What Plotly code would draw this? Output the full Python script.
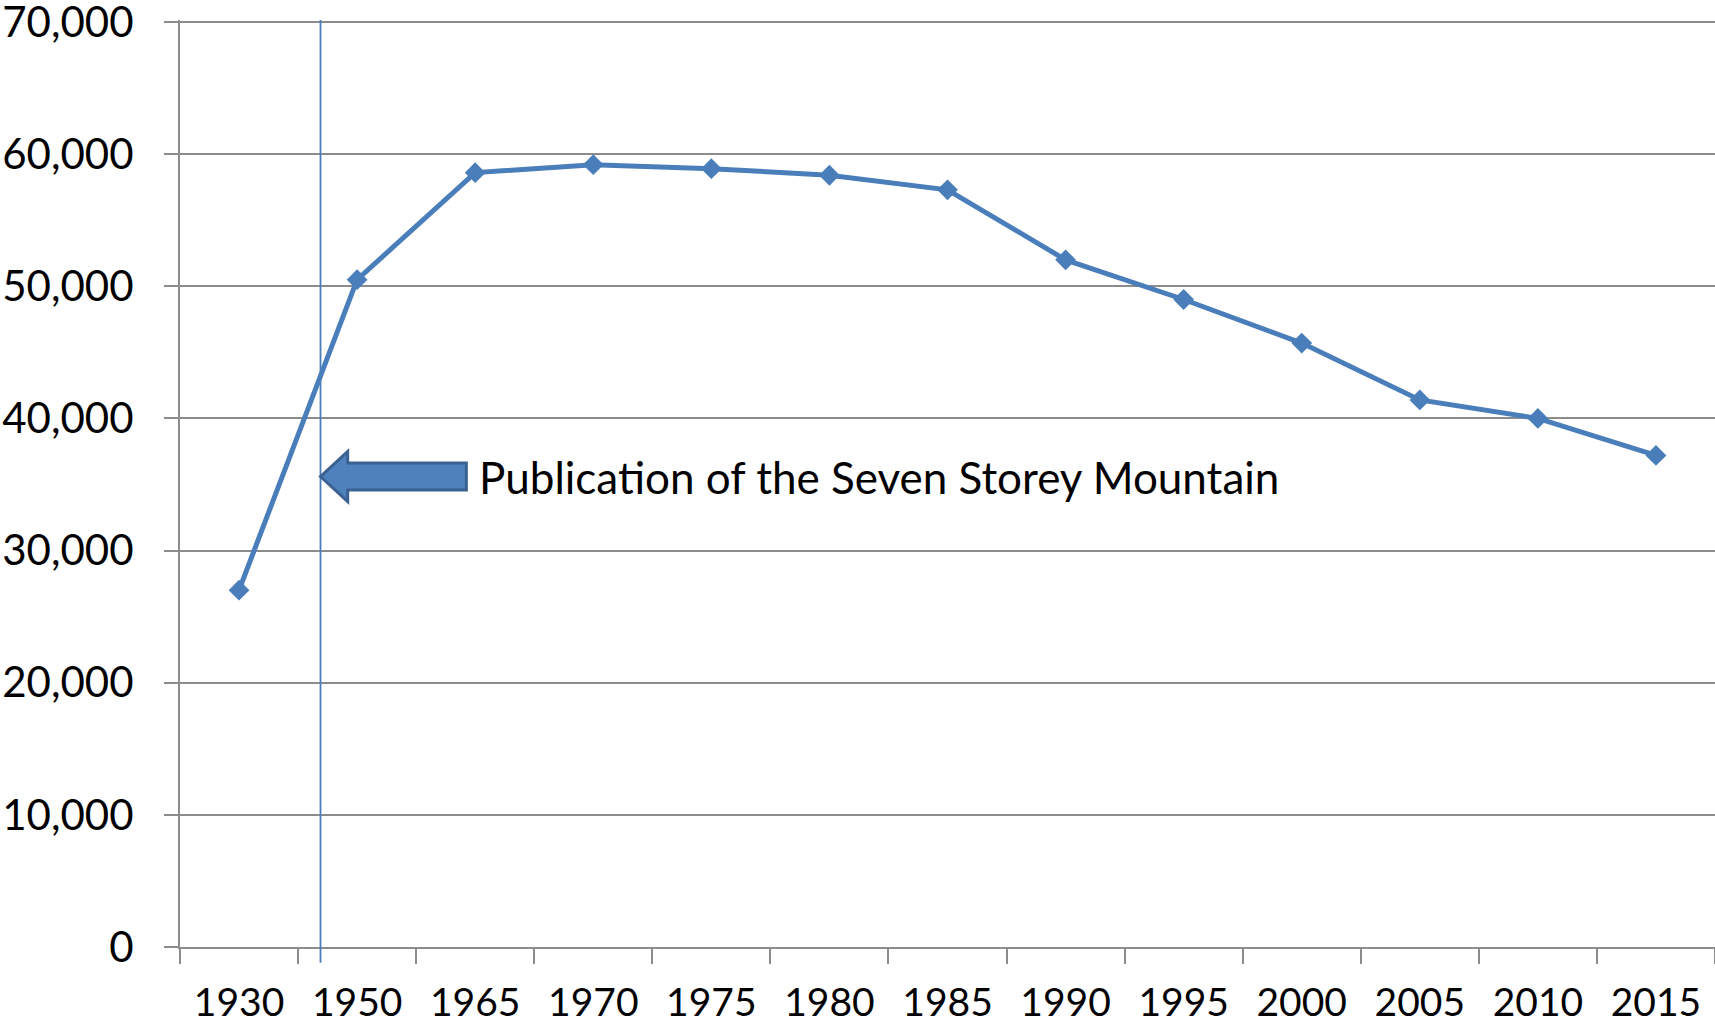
import plotly.graph_objects as go

years = ["1930", "1950", "1965", "1970", "1975", "1980", "1985",
         "1990", "1995", "2000", "2005", "2010", "2015"]
values = [27000, 50500, 58600, 59200, 58900, 58400, 57300,
          52000, 49000, 45700, 41400, 40000, 37200]
y_ticks = [0, 10000, 20000, 30000, 40000, 50000, 60000, 70000]
y_ticktext = ["0", "10,000", "20,000", "30,000", "40,000", "50,000", "60,000", "70,000"]

event_pos = 0.69          # position (category index) of the publication marker line
arrow_y = 35600           # arrow vertical position (data units)
note_text = "Publication of the Seven Storey Mountain"

LINE_BLUE = "#4A7EBB"
GRID = "#8C8C8C"
FONT = "Lato"

fig = go.Figure()
fig.add_trace(go.Scatter(
    x=years, y=values, mode="lines+markers",
    line=dict(color=LINE_BLUE, width=5),
    marker=dict(symbol="diamond", size=16, color=LINE_BLUE),
    showlegend=False, cliponaxis=False,
))

# vertical marker line
fig.add_shape(type="line", xref="x", yref="paper",
              x0=event_pos, x1=event_pos, y0=-0.017, y1=1,
              line=dict(color=LINE_BLUE, width=1.8), layer="above")

# block arrow pointing left
head_len = 0.23
body_end = event_pos + 1.235
head_h = 1900
body_h = 1020
p = (f"M {event_pos} {arrow_y} "
     f"L {event_pos + head_len} {arrow_y + head_h} "
     f"L {event_pos + head_len} {arrow_y + body_h} "
     f"L {body_end} {arrow_y + body_h} "
     f"L {body_end} {arrow_y - body_h} "
     f"L {event_pos + head_len} {arrow_y - body_h} "
     f"L {event_pos + head_len} {arrow_y - head_h} Z")
fig.add_shape(type="path", xref="x", yref="y", path=p,
              fillcolor="#4F81BD", line=dict(color="#3B6191", width=3), layer="above")

fig.add_annotation(x=body_end + 0.09, y=arrow_y, xref="x", yref="y",
                   text=note_text, showarrow=False, xanchor="left", yanchor="middle",
                   font=dict(family=FONT, size=44, color="#000000"))

fig.update_layout(
    width=1715, height=1023,
    margin=dict(l=180, r=0, t=20, b=76),
    paper_bgcolor="white", plot_bgcolor="white",
    font=dict(family=FONT, color="#000000"),
)
fig.update_xaxes(
    type="category", range=[-0.5, 12.5], tickson="boundaries",
    ticks="outside", ticklen=15, tickwidth=2, tickcolor=GRID,
    showline=True, linecolor=GRID, linewidth=2,
    showgrid=False, tickfont=dict(family=FONT, size=39),
    ticklabelstandoff=20, automargin=False,
)
fig.update_yaxes(
    range=[0, 70150], tickvals=y_ticks, ticktext=y_ticktext,
    ticks="outside", ticklen=14, tickwidth=2, tickcolor=GRID,
    showline=True, linecolor=GRID, linewidth=2,
    showgrid=True, gridcolor=GRID, gridwidth=2, zeroline=False,
    tickfont=dict(family=FONT, size=42), ticklabelstandoff=22,
    ticklabeloverflow="allow", automargin=False,
)

fig.write_html("out.html", config={"displayModeBar": False},
               post_script="document.body.style.margin='0px';document.body.style.overflow='hidden';")
